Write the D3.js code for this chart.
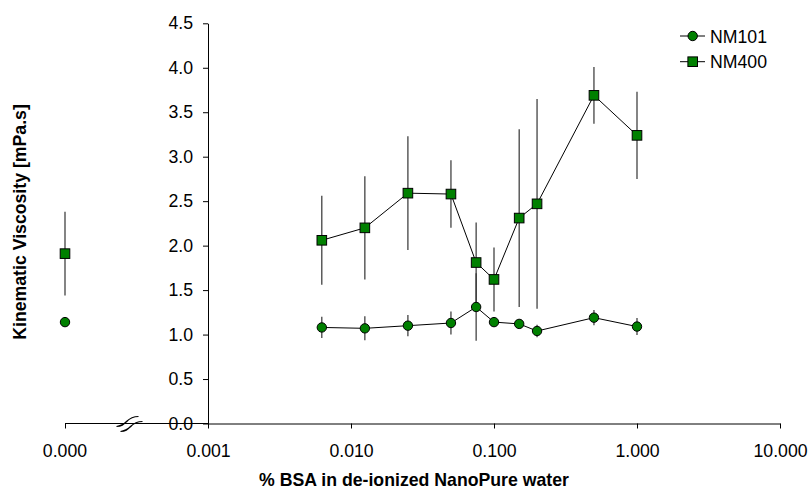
<!DOCTYPE html>
<html>
<head>
<meta charset="utf-8">
<script src="https://cdn.jsdelivr.net/npm/d3@7"></script>
<style>
  html, body { margin: 0; padding: 0; background: #fff; }
  svg { display: block; font-family: "Liberation Sans", Arial, sans-serif; }
</style>
</head>
<body>
<svg id="chart" width="808" height="489"></svg>
<script>
// BSA concentration (% in de-ionized NanoPure water)
const bsaPercent = [0.00625, 0.0125, 0.025, 0.05, 0.075, 0.1, 0.15, 0.2, 0.5, 1.0];

// Kinematic viscosity [mPa.s], mean and standard deviation per concentration
const nm101Mean = [1.08, 1.07, 1.10, 1.13, 1.31, 1.14, 1.12, 1.04, 1.19, 1.09];
const nm101Sd   = [0.12, 0.135, 0.12, 0.13, 0.38, 0.05, 0.05, 0.07, 0.085, 0.095];
const nm400Mean = [2.06, 2.20, 2.59, 2.58, 1.81, 1.62, 2.31, 2.47, 3.69, 3.24];
const nm400Sd   = [0.50, 0.58, 0.64, 0.38, 0.45, 0.36, 1.00, 1.18, 0.32, 0.49];

// Control samples without BSA (plotted at 0.000, left of the axis break)
const controlMean = [1.14, 1.91];
const controlSd   = [0.0, 0.47];

const seriesNames = ["NM101", "NM400"];
const xTickValues = [0.001, 0.01, 0.1, 1, 10];
const yTickValues = [0, 0.5, 1, 1.5, 2, 2.5, 3, 3.5, 4, 4.5];

const FONT = 17.7;
const svg = d3.select("#chart");

const x = d3.scaleLog().domain([0.001, 10]).range([208, 780]);
const xZero = 65;
const y = d3.scaleLinear().domain([0, 4.5]).range([423.5, 23.3]);

// ---- y axis ----
const yAxis = d3.axisLeft(y)
  .tickValues(yTickValues)
  .tickFormat(d3.format(".1f"))
  .tickSize(5)
  .tickSizeOuter(0)
  .tickPadding(10);
const gy = svg.append("g").attr("transform", `translate(${x(0.001)},0)`).call(yAxis);
gy.selectAll("text").attr("font-size", FONT).attr("fill", "#000").attr("font-family", null);
gy.selectAll("line,path").attr("stroke", "#000");

// ---- x axis (log part) ----
const xAxis = d3.axisBottom(x)
  .tickValues(xTickValues)
  .tickFormat(d3.format(".3f"))
  .tickSize(5)
  .tickSizeOuter(0)
  .tickPadding(16);
const gx = svg.append("g").attr("transform", `translate(0,${y(0)})`).call(xAxis);
gx.selectAll("text").attr("font-size", FONT).attr("fill", "#000").attr("font-family", null);
gx.selectAll("line,path").attr("stroke", "#000");

// ---- x axis segment for the 0.000 control ----
const gz = svg.append("g").attr("transform", `translate(0,${y(0)})`);
gz.append("line").attr("x1", xZero).attr("x2", x(0.001)).attr("stroke", "#000");
gz.append("line").attr("x1", xZero + 0.5).attr("x2", xZero + 0.5).attr("y2", 5).attr("stroke", "#000");
gz.append("text").attr("x", xZero).attr("y", 21).attr("dy", "0.71em")
  .attr("text-anchor", "middle").attr("font-size", FONT).text(d3.format(".3f")(0));

// axis break marks (two slanted S strokes)
const breakMark = "M-11,5 C-6,5 -4,3 -1,0 C2,-3 5,-5 11,-5 M-11,5 C-7,4.5 -3,2 0,-0.5";
[[127.5, 421.5], [131.5, 426.5]].forEach(([bx, by]) => {
  svg.append("path").attr("d", breakMark)
    .attr("transform", `translate(${bx},${by})`)
    .attr("fill", "none").attr("stroke", "#000").attr("stroke-width", 1.2);
});

// ---- axis titles ----
svg.append("text")
  .attr("x", 414).attr("y", 486)
  .attr("text-anchor", "middle")
  .attr("font-size", FONT).attr("font-weight", "bold")
  .text("% BSA in de-ionized NanoPure water");
svg.append("text")
  .attr("transform", "translate(26,222) rotate(-90)")
  .attr("text-anchor", "middle")
  .attr("font-size", FONT).attr("font-weight", "bold")
  .text("Kinematic Viscosity [mPa.s]");

// ---- data ----
const series = [
  { name: seriesNames[0], mean: nm101Mean, sd: nm101Sd, shape: "circle" },
  { name: seriesNames[1], mean: nm400Mean, sd: nm400Sd, shape: "square" }
];
series.forEach((s, si) => {
  s.points = bsaPercent.map((c, i) => ({ px: x(c), m: s.mean[i], sd: s.sd[i] }));
  s.control = { px: xZero, m: controlMean[si], sd: controlSd[si] };
});

const fill = "#008000";
const line = d3.line().x(d => d.px).y(d => y(d.m));

// error bars
series.forEach(s => {
  const all = [s.control, ...s.points].filter(d => d.sd > 0);
  svg.append("g").selectAll("line").data(all).join("line")
    .attr("x1", d => d.px).attr("x2", d => d.px)
    .attr("y1", d => y(d.m - d.sd)).attr("y2", d => y(d.m + d.sd))
    .attr("stroke", "#333").attr("stroke-width", 1.2);
});

// connecting lines
series.forEach(s => {
  svg.append("path").datum(s.points).attr("d", line)
    .attr("fill", "none").attr("stroke", "#000").attr("stroke-width", 1);
});

// markers
function drawMarker(g, shape, cx, cy) {
  if (shape === "circle") {
    g.append("circle").attr("cx", cx).attr("cy", cy).attr("r", 4.7)
      .attr("fill", fill).attr("stroke", "#000").attr("stroke-width", 1);
  } else {
    g.append("rect").attr("x", cx - 4.8).attr("y", cy - 4.8)
      .attr("width", 9.6).attr("height", 9.6)
      .attr("fill", fill).attr("stroke", "#000").attr("stroke-width", 1);
  }
}
series.forEach(s => {
  const g = svg.append("g");
  [s.control, ...s.points].forEach(d => drawMarker(g, s.shape, d.px, y(d.m)));
});

// ---- legend ----
const legend = svg.append("g");
series.forEach((s, i) => {
  const ly = 36 + i * 25.7;
  legend.append("line").attr("x1", 680).attr("x2", 705).attr("y1", ly).attr("y2", ly)
    .attr("stroke", "#000").attr("stroke-width", 1);
  drawMarker(legend, s.shape, 692.7, ly);
  legend.append("text").attr("x", 710).attr("y", ly + 6.5)
    .attr("font-size", FONT).text(s.name);
});
</script>
</body>
</html>
